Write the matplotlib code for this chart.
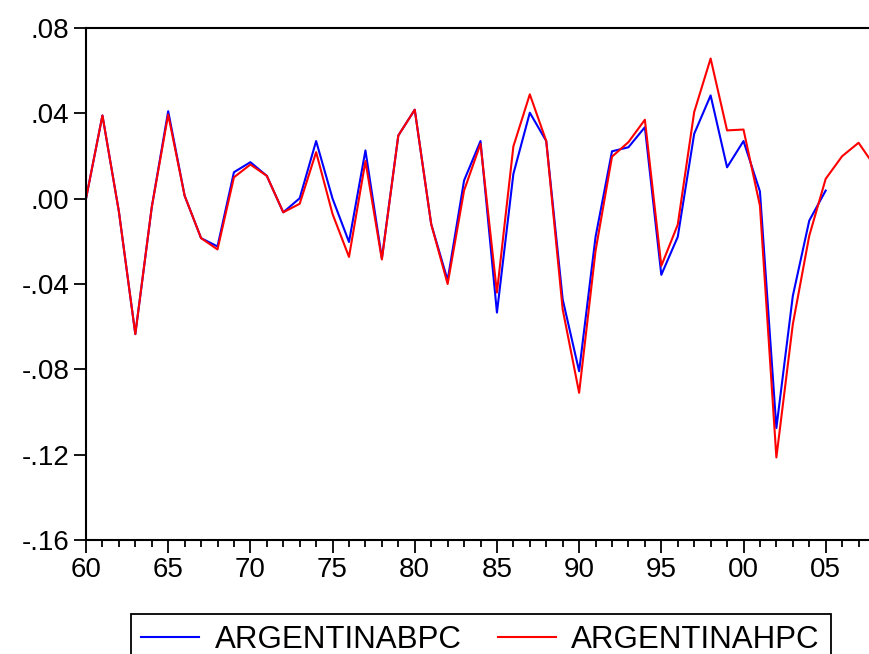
import numpy as np
import matplotlib as mpl
import matplotlib.pyplot as plt
from matplotlib.ticker import MultipleLocator, FuncFormatter

mpl.rcParams['font.family'] = ['Liberation Sans', 'DejaVu Sans']

years_b = list(range(1960, 2006))
years_h = list(range(1960, 2009))

argentina_bpc = [0.000, 0.039, -0.006, -0.0635, -0.004, 0.041, 0.0014, -0.0185, -0.0224, 0.0124,
                 0.0171, 0.0107, -0.0064, 0.0002, 0.027, 0.000, -0.0203, 0.0226, -0.028, 0.0296,
                 0.0417, -0.0119, -0.0382, 0.0085, 0.027, -0.0534, 0.0116, 0.0403, 0.027, -0.0472,
                 -0.0809, -0.0179, 0.0222, 0.0241, 0.0335, -0.0357, -0.0179, 0.0304, 0.0484, 0.0147,
                 0.027, 0.0034, -0.1075, -0.0456, -0.0103, 0.0038]

argentina_hpc = [0.000, 0.039, -0.006, -0.0635, -0.004, 0.0394, 0.0014, -0.0185, -0.0238, 0.010,
                 0.016, 0.0107, -0.0064, -0.0024, 0.0218, -0.0072, -0.0273, 0.0176, -0.0285, 0.0296,
                 0.0417, -0.0119, -0.040, 0.0038, 0.0257, -0.044, 0.0245, 0.0489, 0.027, -0.0519,
                 -0.091, -0.0244, 0.0197, 0.0265, 0.037, -0.0315, -0.0122, 0.0406, 0.0657, 0.032,
                 0.0324, -0.0033, -0.1213, -0.0589, -0.0174, 0.0093, 0.0199, 0.0262, 0.015]

fig = plt.figure(figsize=(8.69, 6.54), dpi=100)
ax = fig.add_axes([86/869, 1-540/654, (875-86)/869, (540-28)/654])

ax.plot(years_b, argentina_bpc, color='#0000ff', lw=1.5, label='ARGENTINABPC')
ax.plot(years_h, argentina_hpc, color='#ff0000', lw=1.5, label='ARGENTINAHPC')

ax.set_xlim(1960, 2008)
ax.set_ylim(-0.16, 0.08)
ax.xaxis.set_major_locator(MultipleLocator(5))
ax.xaxis.set_minor_locator(MultipleLocator(1))
ax.yaxis.set_major_locator(MultipleLocator(0.04))
ax.xaxis.set_major_formatter(FuncFormatter(lambda v, p: '%02d' % (int(round(v)) % 100)))

def yfmt(v, p):
    s = '%.2f' % v
    s = s.replace('0.', '.')
    if s == '-.00':
        s = '.00'
    return s
ax.yaxis.set_major_formatter(FuncFormatter(yfmt))

for s in ['left', 'bottom', 'top']:
    ax.spines[s].set_linewidth(1.5)
ax.spines['right'].set_visible(False)
ax.tick_params(axis='both', which='major', direction='out', length=9, width=1.3, labelsize=20, pad=3)
ax.tick_params(axis='x', which='minor', direction='out', length=5, width=1.3)
ax.tick_params(axis='y', which='minor', left=False)

fig.legend(loc='upper center', bbox_to_anchor=(0.553, 1-614/654), ncol=2, fontsize=22.5,
           frameon=True, fancybox=False, edgecolor='black', framealpha=1,
           handlelength=1.85, handletextpad=0.5, columnspacing=1.15,
           borderaxespad=0, borderpad=0.35)
fig.legends[0].get_frame().set_linewidth(1.3)

plt.savefig('out.png', dpi=100)
